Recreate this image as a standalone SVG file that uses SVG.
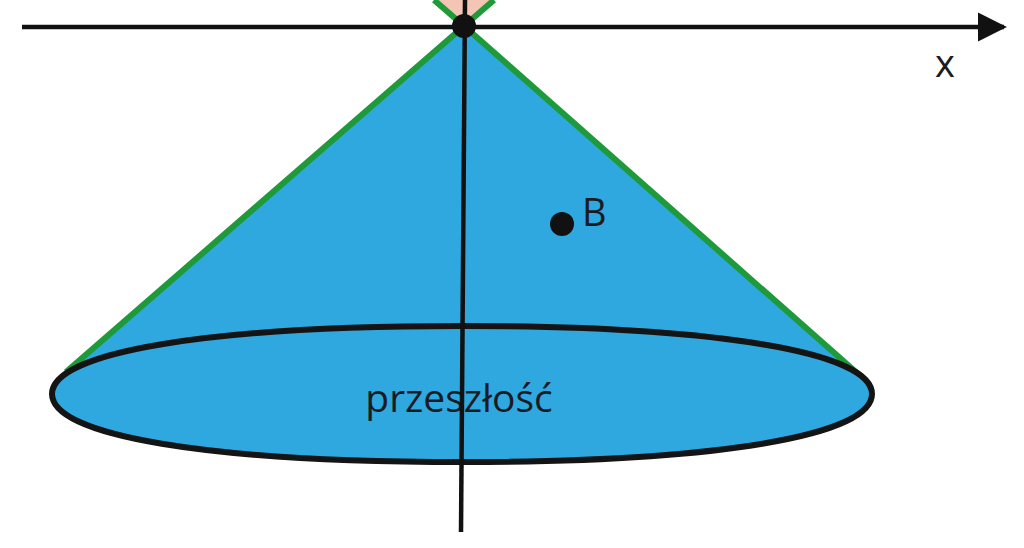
<svg xmlns="http://www.w3.org/2000/svg" width="1024" height="548" viewBox="0 0 1024 548">
<style>
.lbl{font-family:"Open Sans","Noto Sans",sans-serif;fill:#1b1b24}
.ax{stroke:#111;stroke-width:4.5;fill:none}
.edge{stroke:#1f9a3a;stroke-width:6;fill:none}
</style>
<defs>
<marker id="arr" viewBox="0 0 10 10" refX="9" refY="5" markerWidth="6.5" markerHeight="7.2" markerUnits="strokeWidth" orient="auto">
<path d="M0,0 L10,5 L0,10 Z" fill="#111"/>
</marker>
</defs>
<rect width="1024" height="548" fill="#fff"/>
<g id="future-cone">
<polygon points="434,0 494,0 464,26" fill="#f4c4b4"/>
<line class="edge" x1="434" y1="0" x2="464" y2="26"/>
<line class="edge" x1="494" y1="0" x2="464" y2="26"/>
</g>
<g id="past-cone">
<polygon points="464,26 65,373 858,374" fill="#2fa8df"/>
<path d="M52,394 C52,352 208,326 462,326 C716,326 872,352 872,394 C872,436 716,462 462,462 C208,462 52,436 52,394 Z" fill="#2fa8df"/>
<line class="edge" x1="464" y1="26" x2="66" y2="372"/>
<line class="edge" x1="464" y1="26" x2="857" y2="373"/>
<path d="M52,394 C52,352 208,326 462,326 C716,326 872,352 872,394 C872,436 716,462 462,462 C208,462 52,436 52,394 Z" fill="none" stroke="#141414" stroke-width="6"/>
<text class="lbl" x="459" y="412" font-size="39" text-anchor="middle">przeszłość</text>
</g>
<g id="axes">
<line class="ax" x1="22" y1="27" x2="1004" y2="27" marker-end="url(#arr)"/>
<line class="ax" x1="465" y1="0" x2="461" y2="532"/>
<text class="lbl" x="945" y="77" font-size="38" text-anchor="middle">x</text>
</g>
<g id="origin">
<circle cx="464" cy="26" r="12" fill="#111"/>
</g>
<g id="point-B">
<circle cx="562" cy="224" r="12" fill="#111"/>
<text class="lbl" x="582" y="226" font-size="38">B</text>
</g>
</svg>
